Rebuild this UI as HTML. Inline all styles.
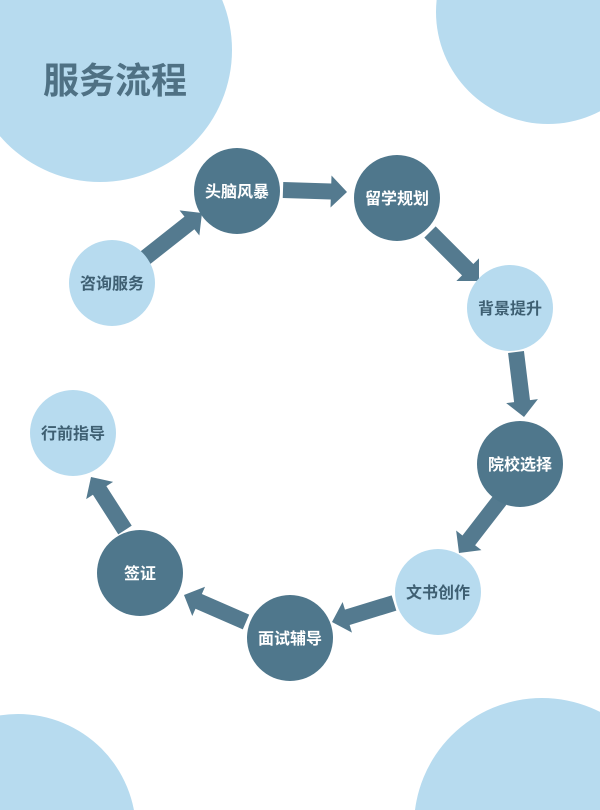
<!DOCTYPE html>
<html><head><meta charset="utf-8"><style>
html,body{margin:0;padding:0;background:#fff;overflow:hidden;width:600px;height:810px;}
body{position:relative;}
svg{position:absolute;left:0;top:0;display:block;overflow:hidden}
text{font-family:"Liberation Sans","Noto Sans CJK SC",sans-serif;font-weight:bold;}
</style></head><body>
<svg width="600" height="810" viewBox="0 0 600 810">
<defs><clipPath id="c"><rect x="0" y="0" width="600" height="810"/></clipPath></defs>
<g clip-path="url(#c)">
<circle cx="100" cy="50" r="132" fill="#b7dbef"/>
<circle cx="548" cy="12" r="112" fill="#b7dbef"/>
<circle cx="18" cy="832" r="118" fill="#b7dbef"/>
<circle cx="542" cy="826" r="128" fill="#b7dbef"/>
</g>
<text x="43" y="93" font-size="36" fill="#4f7184">服务流程</text>
<g id="arrows" fill="#547a8f"></g>
<g font-size="16" text-anchor="middle">
<circle cx="112" cy="283" r="43" fill="#b7dbef"/><text x="112" y="289" fill="#3e5f72">咨询服务</text>
<circle cx="237" cy="191" r="43" fill="#4f778c"/><text x="237" y="197" fill="#fff">头脑风暴</text>
<circle cx="397" cy="198" r="43" fill="#4f778c"/><text x="397" y="204" fill="#fff">留学规划</text>
<circle cx="510" cy="308" r="43" fill="#b7dbef"/><text x="510" y="314" fill="#3e5f72">背景提升</text>
<circle cx="520" cy="464" r="43" fill="#4f778c"/><text x="520" y="470" fill="#fff">院校选择</text>
<circle cx="438" cy="592" r="43" fill="#b7dbef"/><text x="438" y="598" fill="#3e5f72">文书创作</text>
<circle cx="290" cy="638" r="43" fill="#4f778c"/><text x="290" y="644" fill="#fff">面试辅导</text>
<circle cx="140" cy="573" r="43" fill="#4f778c"/><text x="140" y="579" fill="#fff">签证</text>
<circle cx="73" cy="433" r="43" fill="#b7dbef"/><text x="73" y="439" fill="#3e5f72">行前指导</text>
</g>
</svg>
<script>
var A=[[145,258,202,213],[283,190,347,192],[430,232,479,281],[516,352,524,417],[500,500,459,553],[394,603,332,622],[246,622,184,595],[125,530,91,477]];
var g=document.getElementById('arrows'),h='';
A.forEach(function(a){var dx=a[2]-a[0],dy=a[3]-a[1],L=Math.sqrt(dx*dx+dy*dy),ang=Math.atan2(dy,dx)*180/Math.PI,hl=16;
h+='<polygon transform="translate('+a[0]+','+a[1]+') rotate('+ang+')" points="0,-8 '+(L-hl)+',-8 '+(L-hl)+',-16 '+L+',0 '+(L-hl)+',16 '+(L-hl)+',8 0,8"/>';});
g.innerHTML=h;
</script>
</body></html>
